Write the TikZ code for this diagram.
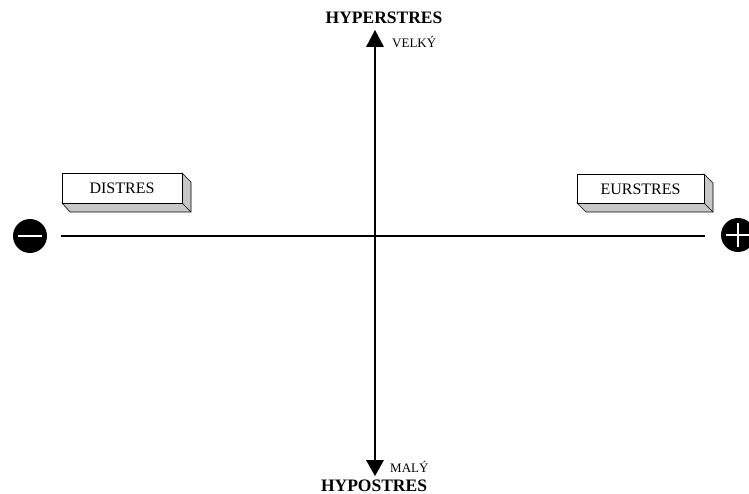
\documentclass[tikz,border=0pt]{standalone}
\usepackage{fontspec}
\setmainfont{Liberation Serif}
\begin{document}
\begin{tikzpicture}[x=1pt,y=-1pt,
  axis/.style={line width=1.3pt},
  tip/.style={fill=black},
  face/.style={draw=black, line width=0.6pt, fill=white},
  sideface/.style={draw=black, line width=0.6pt, fill=black!22},
  boxtext/.style={font=\fontsize{16}{16}\selectfont, anchor=center, inner sep=0pt},
  big/.style={font=\bfseries\fontsize{17.5}{17.5}\selectfont, inner sep=0pt},
  small/.style={font=\fontsize{13}{13}\selectfont, inner sep=0pt, anchor=base west},
  sign/.style={circle, fill=black, minimum size=34pt, inner sep=0pt}]
\useasboundingbox (0,0) rectangle (749,494);
% axes
\coordinate (L) at (61,236);
\coordinate (R) at (705,236);
\coordinate (T) at (375,45);
\coordinate (B) at (375,461);
\draw[axis] (L) -- (R);
\draw[axis] (T) -- (B);
% arrow heads
\fill[tip] (375,30) -- (384,47) -- (366,47) -- cycle;
\fill[tip] (375,476) -- (384,460) -- (366,460) -- cycle;
% texts
\node[big, anchor=base] (hyper) at (384,24) {HYPERSTRES};
\node[big, anchor=base] (hypo) at (374,491) {HYPOSTRES};
\node[small] (velky) at (392,48) {VELKÝ};
\node[small] (maly) at (390,472) {MALÝ};
% signs
\node[sign] (minus) at (30,236) {};
\draw[white, line width=1.8pt] ([xshift=-12pt]minus.center) -- ([xshift=12pt]minus.center);
\node[sign] (plus) at (738,235) {};
\draw[white, line width=1.8pt] ([xshift=-12pt]plus.center) -- ([xshift=12pt]plus.center);
\draw[white, line width=1.8pt] ([yshift=-12pt]plus.center) -- ([yshift=12pt]plus.center);
% DISTRES box
\filldraw[sideface] (182,173) -- (191,182) -- (191,212) -- (70,212) -- (62,203) -- (182,203) -- cycle;
\draw[line width=0.6pt] (182,203) -- (191,212);
\draw[face] (62,173) rectangle (182,203);
\node[boxtext] (distres) at (122,188) {DISTRES};
% EURSTRES box
\filldraw[sideface] (704,174) -- (713,183) -- (713,212) -- (586,212) -- (577,203) -- (704,203) -- cycle;
\draw[line width=0.6pt] (704,203) -- (713,212);
\draw[face] (577,174) rectangle (704,203);
\node[boxtext] (eurstres) at (640.5,189) {EURSTRES};
\end{tikzpicture}
\end{document}
